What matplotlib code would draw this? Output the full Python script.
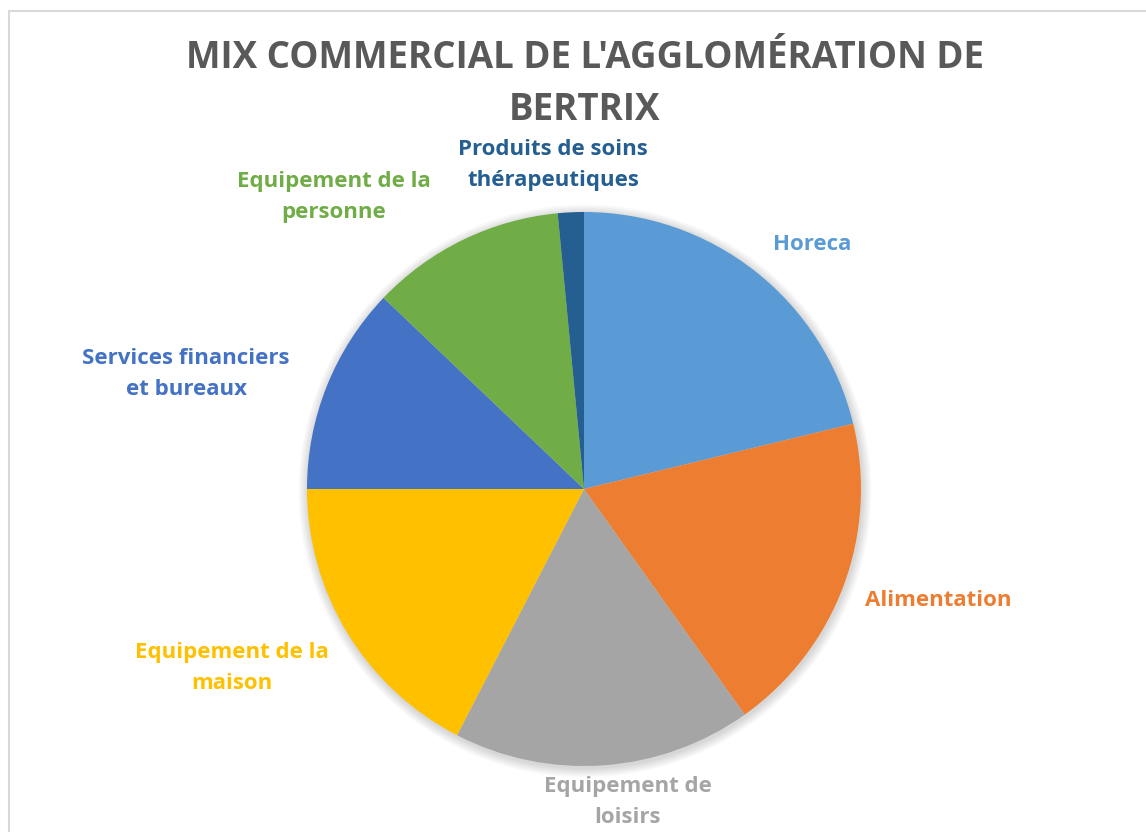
import matplotlib.pyplot as plt
import matplotlib.patches as patches

W, H = 1146, 832

categories = ["Horeca", "Alimentation", "Equipement de\nloisirs",
              "Equipement de la\nmaison", "Services financiers\net bureaux",
              "Equipement de la\npersonne", "Produits de soins\nthérapeutiques"]
counts = [28, 25, 23, 23, 16, 15, 2]
colors = ["#5B9BD5", "#ED7D31", "#A5A5A5", "#FFC000", "#4472C4", "#70AD47", "#255E91"]

# label centres in pixels (x, y from top)
label_pos = [(812, 244), (938, 600), (628, 802), (232, 668), (186, 374), (334, 197), (553, 165)]

CX, CY, R = 584, 489, 277

fig = plt.figure(figsize=(W / 100, H / 100), dpi=100)
ax = fig.add_axes([0, 0, 1, 1])
ax.set_xlim(0, W)
ax.set_ylim(0, H)
ax.set_aspect("equal")
ax.axis("off")

# chart area border
ax.add_patch(patches.Rectangle((9, -20), W + 20, H - 11 + 20, linewidth=1.5,
                               edgecolor="#D9D9D9", facecolor="none"))

# soft shadow
for i in range(8):
    ax.add_patch(patches.Circle((CX + 1, H - CY - 2), R + 1 + i * 1.2,
                                facecolor="black", alpha=0.018, linewidth=0))

ax.pie(counts, colors=colors, startangle=90, counterclock=False,
       center=(CX, H - CY), radius=R, wedgeprops=dict(linewidth=0))
ax.set_xlim(0, W)
ax.set_ylim(0, H)

ax.text(585, H - 58, "MIX COMMERCIAL DE L'AGGLOMÉRATION DE", ha="center", va="center",
        fontsize=26.5, fontweight="bold", color="#595959", family="Open Sans")
ax.text(585, H - 110, "BERTRIX", ha="center", va="center",
        fontsize=26.5, fontweight="bold", color="#595959", family="Open Sans")

for lab, (x, y), c in zip(categories, label_pos, colors):
    ax.text(x, H - y, lab, ha="center", va="center", fontsize=16, fontweight="bold",
            color=c, family="Open Sans", linespacing=1.6)

fig.savefig("out.png", dpi=100)
